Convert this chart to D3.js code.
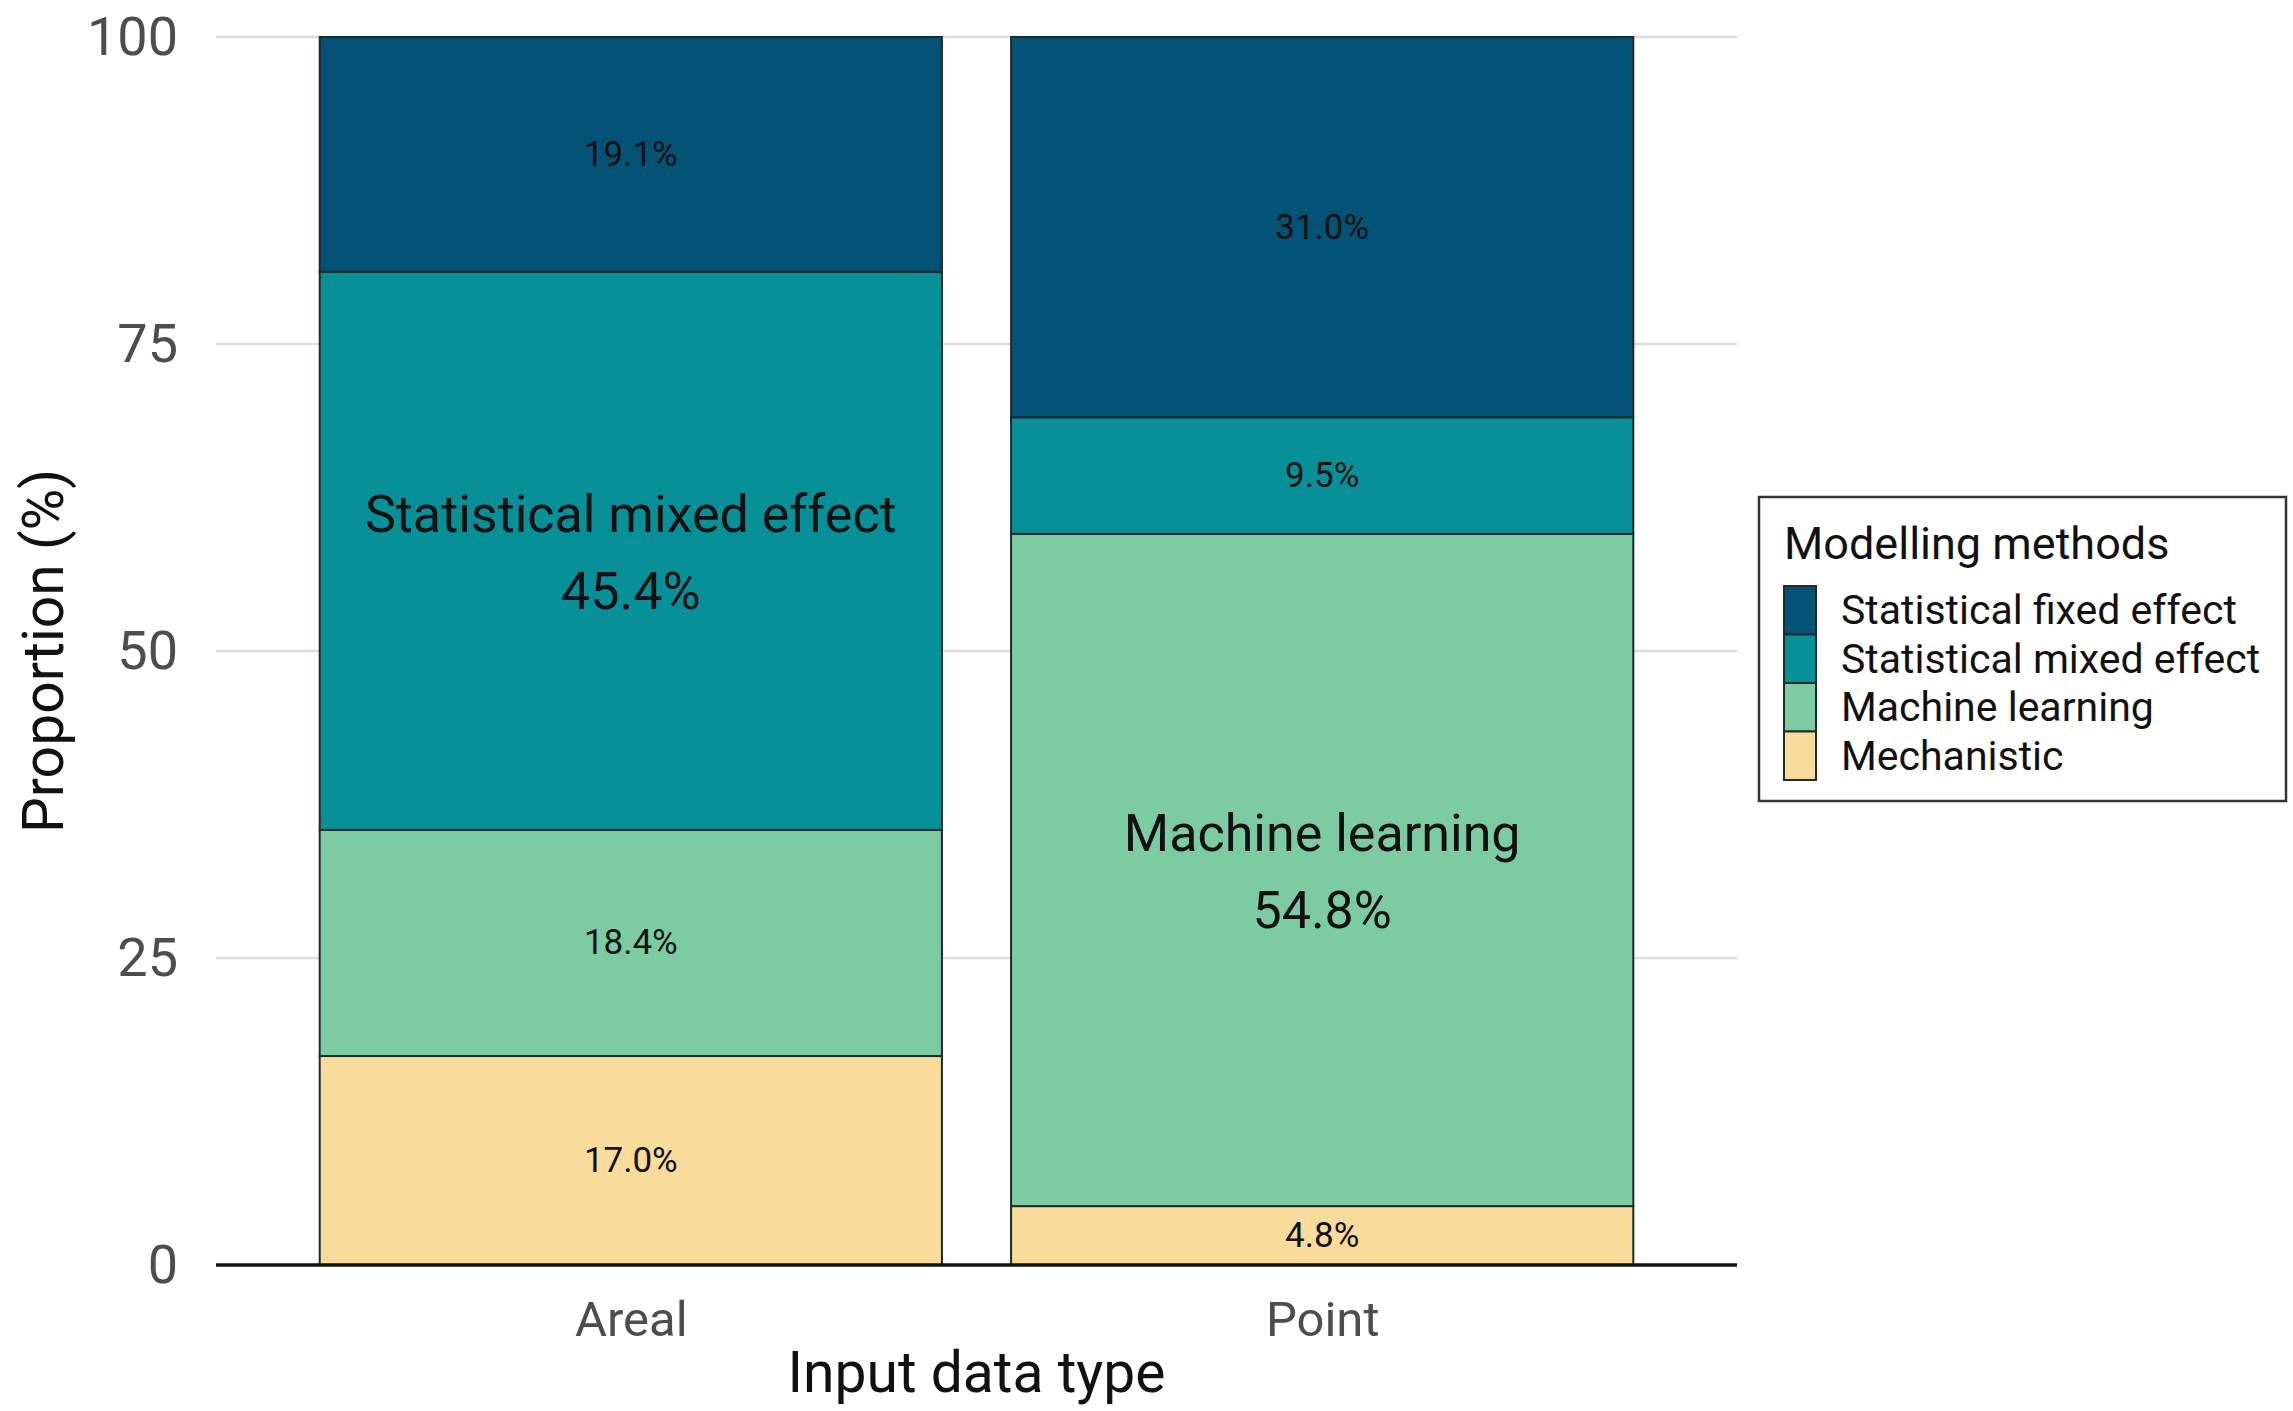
<!DOCTYPE html>
<html>
<head>
<meta charset="utf-8">
<script src="https://cdn.jsdelivr.net/npm/d3@7"></script>
<style>
  html, body { margin: 0; padding: 0; background: #fff; }
  svg { display: block; font-family: Roboto, sans-serif; }
</style>
</head>
<body>
<div class="main"></div>
<script>
// data
let dataTypes = ['Areal', 'Point']
let methods = ['Statistical fixed effect', 'Statistical mixed effect', 'Machine learning', 'Mechanistic']
let fixedEffect = [19.1, 31.0]
let mixedEffect = [45.4, 9.5]
let machineLearning = [18.4, 54.8]
let mechanistic = [17.0, 4.8]
let yTicks = [0, 25, 50, 75, 100]
let colours = ['#045275', '#089099', '#7ccba2', '#f9dc9b']

let W = 2293, H = 1411
let margin = {top: 37, right: 556, bottom: 146, left: 216}

let svg = d3.select('.main').append('svg')
  .attr('width', W).attr('height', H)

let rows = dataTypes.map((t, i) => ({
  type: t,
  'Statistical fixed effect': fixedEffect[i],
  'Statistical mixed effect': mixedEffect[i],
  'Machine learning': machineLearning[i],
  'Mechanistic': mechanistic[i]
}))

// stack from the bottom: mechanistic first
let stackKeys = methods.slice().reverse()
let series = d3.stack().keys(stackKeys).offset(d3.stackOffsetExpand)(rows)

let plotW = W - margin.left - margin.right
let plotH = H - margin.top - margin.bottom

// ggplot style discrete axis: unit spacing, bars 0.9 wide, 0.6 expansion each side
let unit = plotW / 2.2
let xCenter = d3.scalePoint().domain(dataTypes).range([0.6 * unit, 1.6 * unit])
let barW = 0.9 * unit

let yScale = d3.scaleLinear().domain([0, 100]).range([plotH, 0])
let colour = d3.scaleOrdinal().domain(methods).range(colours)

let g = svg.append('g').attr('transform', `translate(${margin.left}, ${margin.top})`)

// gridlines
g.append('g').selectAll('line').data(yTicks.filter(d => d > 0)).enter().append('line')
  .attr('x1', 0).attr('x2', plotW)
  .attr('y1', d => yScale(d)).attr('y2', d => yScale(d))
  .style('stroke', '#dcdcdc').style('stroke-width', 2.5)

// y tick labels
let yAxis = d3.axisLeft(yScale).tickValues(yTicks).tickSize(0).tickPadding(38)
let yAx = g.append('g').call(yAxis)
yAx.select('.domain').remove()
yAx.selectAll('text').style('font-size', '54px').style('fill', '#4d4d4d')
  .attr('font-family', 'Roboto')

// bars
let layers = g.append('g').selectAll('g').data(series).enter().append('g')
  .style('fill', d => colour(d.key))

layers.selectAll('rect').data(d => d).enter().append('rect')
  .attr('x', d => xCenter(d.data.type) - barW / 2)
  .attr('width', barW)
  .attr('y', d => yScale(d[1] * 100))
  .attr('height', d => yScale(d[0] * 100) - yScale(d[1] * 100))
  .style('stroke', '#1f2a2a').style('stroke-width', 2)

// labels: the biggest segment of each bar gets its name too
series.forEach(s => {
  s.forEach(d => {
    let val = d.data[s.key]
    let maxVal = d3.max(methods, m => d.data[m])
    let cx = xCenter(d.data.type)
    let cy = yScale((d[0] + d[1]) / 2 * 100)
    if (val === maxVal) {
      let t = g.append('text')
        .attr('text-anchor', 'middle')
        .style('font-size', '52px').style('fill', '#111')
      t.append('tspan').attr('x', cx).attr('y', cy - 36).attr('dominant-baseline', 'central').text(s.key)
      t.append('tspan').attr('x', cx).attr('y', cy + 41).attr('dominant-baseline', 'central').text(val.toFixed(1) + '%')
    } else {
      g.append('text')
        .attr('x', cx).attr('y', cy)
        .attr('text-anchor', 'middle').attr('dominant-baseline', 'central')
        .style('font-size', '35px').style('fill', '#111')
        .text(val.toFixed(1) + '%')
    }
  })
})

// baseline axis line
g.append('line')
  .attr('x1', 0).attr('x2', plotW)
  .attr('y1', yScale(0)).attr('y2', yScale(0))
  .style('stroke', '#111').style('stroke-width', 3.5)

// x tick labels
let xAxis = d3.axisBottom(xCenter).tickSize(0).tickPadding(36)
let xAx = g.append('g').attr('transform', `translate(0, ${plotH})`).call(xAxis)
xAx.select('.domain').remove()
xAx.selectAll('text').style('font-size', '49px').style('fill', '#4d4d4d')
  .attr('font-family', 'Roboto')

// axis titles
svg.append('text')
  .attr('x', margin.left + plotW / 2).attr('y', 1392)
  .attr('text-anchor', 'middle')
  .style('font-size', '57px').style('fill', '#111')
  .text('Input data type')

svg.append('text')
  .attr('transform', `translate(63, ${margin.top + plotH / 2}) rotate(-90)`)
  .attr('text-anchor', 'middle')
  .style('font-size', '57px').style('fill', '#111')
  .text('Proportion (%)')

// legend
let lg = svg.append('g').attr('transform', 'translate(1759, 497)')
lg.append('rect')
  .attr('width', 527).attr('height', 304)
  .style('fill', '#fff').style('stroke', '#333').style('stroke-width', 2.5)
lg.append('text')
  .attr('x', 25).attr('y', 62)
  .style('font-size', '45px').style('fill', '#111')
  .text('Modelling methods')

let keyH = 48.5
let items = lg.selectAll('g.item').data(methods).enter().append('g')
  .attr('class', 'item')
  .attr('transform', (d, i) => `translate(25, ${89 + i * keyH})`)
items.append('rect')
  .attr('width', 32).attr('height', keyH)
  .style('fill', d => colour(d)).style('stroke', '#1f2a2a').style('stroke-width', 2)
items.append('text')
  .attr('x', 57).attr('y', keyH / 2)
  .attr('dominant-baseline', 'central')
  .style('font-size', '41px').style('fill', '#111')
  .text(d => d)
</script>
</body>
</html>
